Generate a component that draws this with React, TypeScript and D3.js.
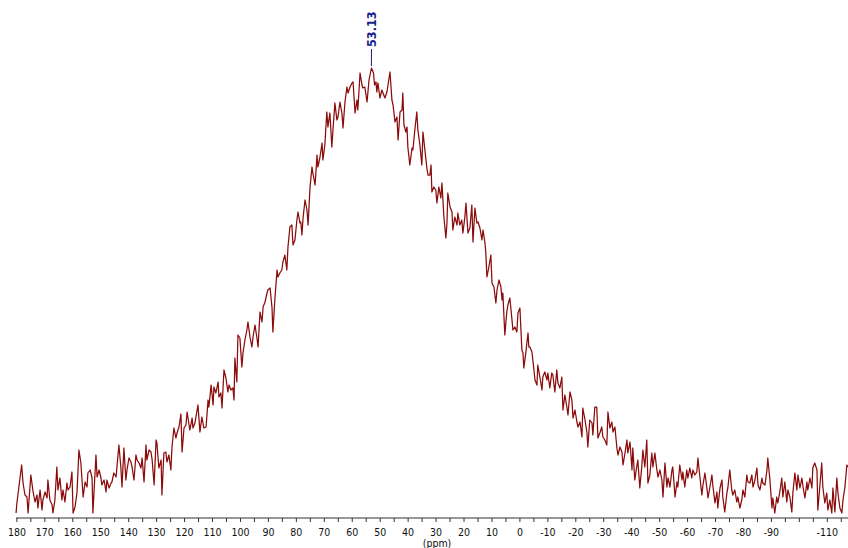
import React from "react";
import * as d3 from "d3";

// Chemical shift axis (ppm, decreasing to the right) and labelled ticks
const axisLabels: number[] = [180, 170, 160, 150, 140, 130, 120, 110, 100, 90, 80, 70, 60, 50, 40, 30, 20, 10, 0, -10, -20, -30, -40, -50, -60, -70, -80, -90, -110];
const minorTicks: number[] = [180, 175, 170, 165, 160, 155, 150, 145, 140, 135, 130, 125, 120, 115, 110, 105, 100, 95, 90, 85, 80, 75, 70, 65, 60, 55, 50, 45, 40, 35, 30, 25, 20, 15, 10, 5, 0, -5, -10, -15, -20, -25, -30, -35, -40, -45, -50, -55, -60, -65, -70, -75, -80, -85, -90, -95, -100, -105, -110, -115];
const axisTitle = "(ppm)";

// Picked peak
const peakShift = 53.13;
const peakLabel = "53.13";

// Spectrum trace: [shift (ppm), intensity (arb. units)]
const spectrum: [number, number][] = [
  [180.3, -1], [180.0, 9], [178.3, 47], [177.8, 29], [177.1, 17], [176.4, 15], [176.0, -1], [175.0, 37], [174.2, 20], [173.5, 10],
  [172.8, 17], [172.5, 4], [171.7, 22], [171.0, 2], [170.7, 12], [169.9, 20], [169.2, 14], [168.9, 32], [168.2, 12], [167.4, 7],
  [167.1, -1], [166.4, 12], [165.7, 45], [165.3, 22], [164.6, 34], [163.9, 12], [163.5, 22], [162.8, 10], [162.1, 29], [161.7, 22],
  [161.0, 25], [160.3, 40], [159.9, -1], [159.2, 5], [158.5, 19], [157.8, 62], [157.1, 49], [156.3, 15], [155.6, 30], [154.9, 25],
  [154.6, 39], [153.8, 42], [153.1, 34], [152.8, -1], [151.7, 57], [151.3, 35], [150.6, 42], [149.9, 34], [149.6, 27], [148.8, 32],
  [148.1, 20], [147.8, 32], [147.0, 24], [146.3, 29], [146.0, 30], [145.3, 39], [144.5, 35], [144.2, 45], [143.5, 67], [142.8, 45],
  [142.4, 25], [141.7, 64], [141.0, 32], [140.6, 42], [139.9, 54], [139.2, 50], [138.8, 45], [138.1, 32], [137.4, 57], [137.0, 52],
  [136.3, 49], [135.6, 44], [135.2, 54], [134.5, 30], [133.8, 67], [133.5, 52], [132.7, 62], [132.0, 60], [131.6, 52], [130.9, 27],
  [130.2, 72], [129.9, 69], [129.2, 44], [128.4, 52], [128.1, 17], [127.4, 59], [126.7, 60], [126.3, 50], [125.6, 57], [124.9, 42],
  [124.5, 65], [123.8, 84], [123.1, 74], [122.7, 79], [122.0, 85], [121.3, 98], [120.9, 60], [120.2, 84], [119.5, 87], [119.1, 100],
  [118.1, 82], [117.3, 94], [117.0, 84],
  [116.3, 89], [115.2, 107], [114.5, 80], [113.8, 95], [113.1, 84], [112.3, 85], [111.6, 112], [111.3, 105], [110.5, 127], [109.8, 107],
  [109.5, 125], [108.8, 119], [108.0, 130], [107.7, 115], [107.0, 119], [106.6, 104], [105.9, 142], [105.2, 134], [104.5, 120], [104.1, 127],
  [103.4, 122], [102.7, 124], [102.3, 112], [102.0, 154], [101.3, 130], [100.9, 177], [100.2, 174], [99.5, 145], [99.1, 159], [98.4, 172],
  [97.7, 182], [97.3, 190], [96.6, 175], [95.9, 165], [95.5, 175], [94.8, 187], [94.1, 174], [93.7, 165], [93.0, 200], [92.3, 190],
  [91.9, 205], [91.2, 210], [90.5, 219], [90.2, 222], [89.4, 224], [88.7, 204], [88.4, 180], [87.7, 212], [86.9, 242], [86.6, 235],
  [85.9, 239], [85.2, 242], [84.8, 250],
  [84.1, 257], [83.4, 242], [83.0, 265], [82.3, 285], [81.6, 287], [81.2, 267], [80.5, 272], [79.8, 292], [79.4, 300], [78.7, 289],
  [78.4, 290], [78.0, 277], [77.6, 294], [76.9, 312], [76.2, 302], [75.8, 287], [75.1, 325], [74.4, 345], [74.1, 339], [73.3, 327],
  [72.6, 357], [72.3, 345],
  [71.6, 354], [70.8, 369], [70.5, 352], [69.8, 367], [69.1, 400], [68.7, 385], [68.0, 399], [67.3, 365], [66.9, 382], [66.2, 409],
  [65.5, 392], [65.1, 395], [64.4, 410], [63.7, 399], [63.3, 384], [62.6, 410], [61.9, 425], [61.5, 419], [60.8, 425], [60.1, 429],
  [59.7, 430], [59.0, 399], [58.3, 412], [58.0, 402], [57.2, 439], [56.5, 427], [56.2, 424], [55.5, 425], [54.7, 410], [54.0, 432],
  [53.13, 444], [52.4, 439], [52.0, 427], [51.5, 430], [51.2, 420], [50.8, 429], [50.1, 414], [49.4, 422], [49.0, 419], [48.3, 414],
  [47.6, 420], [47.2, 427], [46.5, 440], [45.8, 412], [45.4, 407], [44.7, 390], [44.0, 395], [43.6, 372],
  [42.9, 400], [42.2, 402], [41.9, 419], [41.5, 387], [40.8, 380], [40.4, 385], [40.1, 365], [39.4, 347], [38.6, 364], [38.3, 362],
  [37.6, 382], [36.9, 400], [36.5, 382], [35.8, 367], [35.1, 347], [34.7, 380], [34.0, 362], [33.3, 344], [32.9, 337], [32.2, 337],
  [31.8, 347], [31.5, 320], [30.8, 325], [30.1, 322], [29.7, 309], [29.0, 325], [28.3, 314], [27.9, 329], [27.2, 295], [26.5, 274],
  [26.1, 289], [25.8, 319], [25.0, 305], [24.3, 300], [24.0, 282], [23.3, 295], [22.5, 287], [22.2, 299], [21.5, 287], [20.8, 292],
  [20.4, 279], [19.7, 295], [19.3, 309], [18.6, 279],
  [17.9, 284], [17.2, 307], [16.8, 270], [16.1, 304], [15.4, 289], [15.0, 290], [14.3, 284], [13.6, 272], [13.2, 282], [12.5, 269],
  [12.2, 259], [11.8, 235], [11.1, 245], [10.4, 257], [10.0, 229], [9.3, 225], [8.6, 209], [8.2, 222], [7.5, 232], [6.8, 225],
  [6.4, 212], [6.1, 219], [5.4, 177], [4.7, 200], [4.3, 207], [3.6, 214], [2.9, 194], [2.5, 182], [1.8, 185], [1.1, 180],
  [0.7, 199], [0.0, 204], [-0.7, 162], [-1.1, 159], [-1.4, 144], [-2.1, 159], [-2.9, 179], [-3.2, 165],
  [-3.6, 165], [-4.3, 160], [-4.7, 150], [-5.4, 132], [-6.1, 127], [-6.4, 147], [-7.2, 134], [-7.9, 122], [-8.2, 135], [-8.9, 140],
  [-9.7, 132], [-10.0, 139], [-10.7, 124], [-11.4, 139], [-11.8, 137], [-12.5, 120], [-13.2, 142], [-13.6, 129], [-14.3, 124], [-15.0, 135],
  [-15.4, 102], [-16.1, 117], [-16.8, 105], [-17.2, 97], [-17.9, 120], [-18.6, 112], [-19.0, 94], [-19.7, 102], [-20.4, 90], [-20.8, 85],
  [-21.5, 90], [-22.2, 75], [-22.5, 104], [-23.3, 92], [-24.0, 79], [-24.3, 65], [-25.0, 92], [-25.8, 89], [-26.1, 77], [-26.8, 105],
  [-27.5, 105], [-27.9, 74],
  [-28.6, 79], [-29.3, 85], [-29.7, 75], [-30.4, 72], [-31.1, 67], [-31.5, 100], [-32.2, 84], [-32.9, 90], [-33.3, 80], [-34.0, 85],
  [-34.7, 64], [-35.1, 57], [-35.8, 65], [-36.5, 60], [-36.9, 47], [-37.6, 59], [-38.3, 72], [-38.6, 59], [-39.4, 70], [-40.1, 42],
  [-40.4, 64], [-41.1, 32], [-41.9, 47], [-42.2, 52], [-42.9, 24], [-43.6, 45], [-44.0, 62], [-44.7, 45], [-45.4, 72], [-45.8, 29],
  [-46.5, 37], [-47.2, 59], [-47.6, 45], [-48.3, 59], [-49.0, 42], [-49.4, 35], [-50.1, 42], [-50.8, 32], [-51.2, 15], [-51.9, 49],
  [-52.6, 25], [-53.0, 34], [-53.7, 25], [-54.4, 42], [-54.7, 45], [-55.5, 15], [-56.2, 30], [-56.5, 25], [-57.2, 47], [-58.0, 32],
  [-58.3, 40], [-59.0, 25], [-59.7, 42], [-60.1, 34], [-60.8, 44], [-61.5, 34], [-61.9, 42], [-62.6, 37], [-63.3, 40], [-63.7, 54],
  [-64.4, 35], [-65.1, 17], [-65.5, 27], [-66.2, 39], [-66.9, 24], [-67.3, 14], [-68.0, 25], [-68.7, 37], [-69.1, 25], [-69.8, 9],
  [-70.5, 20], [-70.8, 4], [-71.6, 24], [-72.3, 32], [-72.6, 15], [-73.3, 0], [-74.1, 20], [-74.4, 24], [-75.1, 42], [-75.8, 22],
  [-76.2, 17], [-76.9, 22], [-77.6, 10], [-78.0, 15], [-78.7, 4], [-79.4, 12], [-79.8, 22], [-80.5, 15], [-81.2, 37], [-81.6, 30],
  [-82.3, 29], [-83.0, 37], [-83.4, 25], [-84.1, 32], [-84.8, 44], [-85.2, 27], [-85.9, 22], [-86.6, 34], [-86.9, 29], [-87.7, 27],
  [-88.4, 42], [-88.7, 54], [-89.4, 34], [-90.2, 4], [-90.5, 14], [-91.2, -1], [-91.9, 15], [-92.3, 9], [-93.0, 20], [-93.7, 34],
  [-94.1, 15], [-94.8, 30], [-95.5, 10], [-95.9, 22], [-96.6, 15], [-97.3, 0], [-97.7, 20], [-98.4, 39], [-99.1, 22], [-99.5, 37],
  [-100.2, 24], [-100.9, 34], [-101.3, 25], [-102.0, 14], [-102.7, 30], [-103.0, 22], [-103.8, 34], [-104.5, 24], [-104.8, 44], [-105.5, 49],
  [-106.3, 42], [-106.6, 2], [-107.3, 25], [-108.0, 49], [-108.4, 25], [-109.1, 9], [-109.8, 19], [-110.2, 2], [-110.9, 12], [-111.6, -1],
  [-112.0, 24], [-112.7, 0], [-113.4, 34], [-113.8, 19], [-114.5, 4], [-115.2, -1], [-115.6, 12], [-116.3, 25], [-117.0, 47], [-117.4, 45],
];

const W = 848;
const H = 548;
const plotLeft = 16;
const plotRight = 848;
const axisY = 518;

export default function App() {
  const x = d3.scaleLinear().domain([180.32, -117.4]).range([plotLeft, plotRight]);
  const y = d3.scaleLinear().domain([0, 444]).range([512, 68]);

  const line = d3
    .line<[number, number]>()
    .x((d) => x(d[0]))
    .y((d) => y(d[1]));

  const peakIntensity = spectrum.find((d) => d[0] === peakShift)?.[1] ?? 0;
  const px = x(peakShift);
  const py = y(peakIntensity);

  const axisFont = "Tahoma, 'DejaVu Sans Condensed', 'DejaVu Sans', sans-serif";

  return (
    <svg
      width={W}
      height={H}
      viewBox={`0 0 ${W} ${H}`}
      style={{ position: "absolute", left: 0, top: 0, background: "#fff" }}
    >
      <path d={line(spectrum) ?? ""} fill="none" stroke="#8b0a0a" strokeWidth={1.25} strokeLinejoin="round" />

      {/* peak marker */}
      <line x1={px} x2={px} y1={py - 2} y2={py - 19} stroke="#1c1c8c" strokeWidth={1} />
      <text
        transform={`translate(${px + 4.5},${py - 21}) rotate(-90)`}
        fontFamily={axisFont}
        fontWeight="bold"
        fontSize={12.5}
        fill="#1c1c8c"
      >
        {peakLabel}
      </text>

      {/* shift axis */}
      <line x1={plotLeft} x2={plotRight} y1={axisY} y2={axisY} stroke="#333" strokeWidth={1} />
      {minorTicks.map((t) => (
        <line key={`t${t}`} x1={x(t)} x2={x(t)} y1={axisY} y2={axisY + 4} stroke="#333" strokeWidth={1} />
      ))}
      {axisLabels.map((t) => (
        <text
          key={`l${t}`}
          x={x(t)}
          y={axisY + 18}
          textAnchor="middle"
          fontFamily={axisFont}
          fontSize={10.5}
          fill="#111"
        >
          {String(t)}
        </text>
      ))}
      <text x={437} y={547} textAnchor="middle" fontFamily={axisFont} fontSize={10.5} fill="#111">
        {axisTitle}
      </text>
    </svg>
  );
}
